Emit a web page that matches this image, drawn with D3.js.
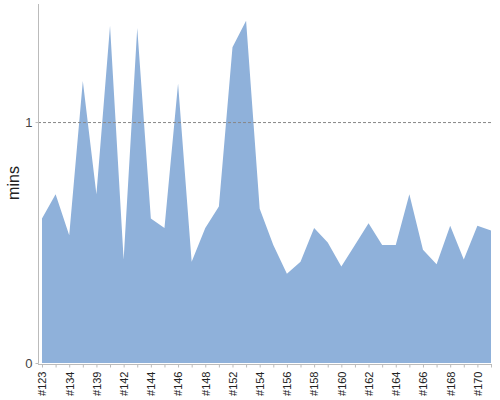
<!DOCTYPE html>
<html>
<head>
<meta charset="utf-8">
<script src="https://cdn.jsdelivr.net/npm/d3@7"></script>
<style>
body { margin: 0; background: #fff; }
svg { font-family: "Liberation Sans", Arial, sans-serif; }
</style>
</head>
<body>
<div id="chart"></div>
<script>
// build ids, every other one gets a label
var builds = ["#123", "#133", "#134", "#138", "#139", "#141", "#142", "#143", "#144", "#145",
              "#146", "#147", "#148", "#151", "#152", "#153", "#154", "#155", "#156", "#157",
              "#158", "#159", "#160", "#161", "#162", "#163", "#164", "#165", "#166", "#167",
              "#168", "#169", "#170", "#171"];
var mins = [0.60, 0.70, 0.53, 1.17, 0.70, 1.40, 0.43, 1.39, 0.60, 0.56,
            1.16, 0.42, 0.56, 0.65, 1.31, 1.42, 0.64, 0.49, 0.37, 0.42,
            0.56, 0.50, 0.40, 0.49, 0.58, 0.49, 0.49, 0.70, 0.47, 0.41,
            0.57, 0.43, 0.57, 0.55];
var yTicks = [0, 1];
var refLine = 1;

var width = 500, height = 400;
var axisX = 38, bottomY = 363;

var svg = d3.select("#chart").append("svg")
    .attr("width", width)
    .attr("height", height);

var x = d3.scalePoint()
    .domain(builds)
    .range([42, 491]);

var y = d3.scaleLinear()
    .domain([0, 1.49])
    .range([bottomY, 4]);

// area
var area = d3.area()
    .x(function(d, i) { return x(builds[i]); })
    .y0(bottomY)
    .y1(function(d) { return y(d); });

svg.append("path")
    .datum(mins)
    .attr("d", area)
    .attr("fill", "#8fb1da");

// dashed line at 1 min
svg.append("line")
    .attr("x1", axisX)
    .attr("x2", 491)
    .attr("y1", y(refLine) + 0.5)
    .attr("y2", y(refLine) + 0.5)
    .attr("stroke", "#888")
    .attr("stroke-width", 1)
    .attr("stroke-dasharray", "3,2");

// y axis
var yAxis = svg.append("g")
    .attr("transform", "translate(" + (axisX + 0.5) + ",0)")
    .call(d3.axisLeft(y).tickValues(yTicks).tickSize(3).tickFormat(d3.format("d")));
yAxis.select(".domain").attr("stroke", "#bbb").attr("d", "M0," + y.range()[1] + "V" + (bottomY + 0.5));
yAxis.selectAll(".tick line").attr("stroke", "#bbb");
yAxis.selectAll(".tick text")
    .attr("font-size", 13)
    .attr("fill", "#444")
    .attr("x", -6);

// x axis
var xAxis = svg.append("g")
    .attr("transform", "translate(0," + (bottomY + 1.5) + ")")
    .call(d3.axisBottom(x).tickSize(3)
        .tickFormat(function(d, i) { return i % 2 == 0 ? d : ""; }));
xAxis.select(".domain").attr("stroke", "#bbb").attr("d", "M" + axisX + ",0H492");
xAxis.selectAll(".tick line").attr("stroke", "#bbb");
xAxis.selectAll(".tick text")
    .attr("font-size", 11)
    .attr("fill", "#222")
    .attr("text-anchor", "end")
    .attr("transform", "rotate(-90)")
    .attr("x", -7)
    .attr("y", 0)
    .attr("dy", "0.35em");

// axis title
svg.append("text")
    .attr("transform", "translate(19,183) rotate(-90)")
    .attr("text-anchor", "middle")
    .attr("font-size", 16)
    .attr("fill", "#222")
    .text("mins");
</script>
</body>
</html>
